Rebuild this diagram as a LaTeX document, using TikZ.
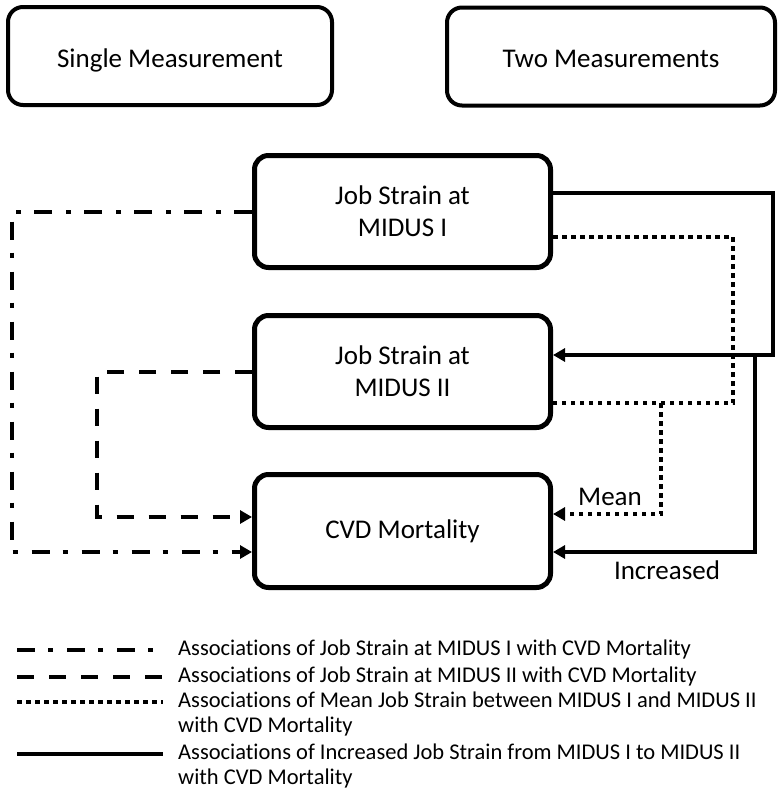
\documentclass[tikz,border=0pt]{standalone}
\usepackage{fontspec}
\setmainfont[Ligatures=NoCommon]{Carlito}
\usetikzlibrary{arrows.meta, positioning}

\begin{document}
\begin{tikzpicture}[x=1pt, y=-1pt,
  topbox/.style={draw, line width=4pt, rounded corners=15pt, minimum width=324pt, minimum height=98pt, text height=22pt, text depth=0pt, font=\fontsize{27}{32}\selectfont},
  midbox/.style={draw, line width=5pt, rounded corners=14pt, minimum width=296pt, minimum height=112pt, align=center, font=\fontsize{27}{32}\selectfont},
  tip/.style={-{Triangle[length=12pt, width=13pt]}},
  ddline/.style={line width=4pt, dash pattern=on 18pt off 13pt on 5pt off 14pt},
  dline/.style={line width=4pt, dash pattern=on 17pt off 15pt},
  dotline/.style={line width=4pt, dash pattern=on 4.5pt off 4.5pt},
  sline/.style={line width=4pt},
  lbl/.style={font=\fontsize{27}{32}\selectfont},
  legtext/.style={anchor=base west, align=left, inner sep=0pt, font=\fontsize{22.5}{25}\selectfont}
]
\useasboundingbox (0,0) rectangle (784,790);

% header boxes
\node[topbox] (single) at (170,56) {Single Measurement};
\node[topbox, minimum width=328pt] (two) at (611,56.5) {Two Measurements};

% job strain and outcome
\node[midbox] (js1) at (402.5,211.5) {Job Strain at\\MIDUS I};
\node[midbox] (js2) at (402.5,371.5) {Job Strain at\\MIDUS II};
\node[midbox, minimum height=113pt] (cvd) at (402.5,531) {CVD Mortality};

% single measurement paths
\draw[ddline, tip] (js1.west) -- ++(-240,0) |- ([yshift=-21pt]cvd.west);
\draw[dline, tip] (js2.west) -- ++(-155,0) |- ([yshift=14pt]cvd.west);

% two measurement paths
\coordinate (solidturn) at (773,355);
\coordinate (solidsplit) at (755,355);
\coordinate (dotturn) at (733,403);
\coordinate (dotsplit) at (661,403);
\draw[sline, tip] ([yshift=18.5pt]js1.east) -| (solidturn) -- ([yshift=16.5pt]js2.east);
\draw[sline, tip] (solidsplit) |- ([yshift=-21pt]cvd.east);
\draw[dotline] ([yshift=-25.5pt]js1.east) -| (dotturn) -- ([yshift=-31.5pt]js2.east);
\draw[dotline, tip] (dotsplit) |- ([yshift=17pt]cvd.east);
\node[lbl] (mean) at (610,497) {Mean};
\node[lbl] (incr) at (667,570) {Increased};

% legend
\draw[ddline] (17,650) -- (163,650);
\draw[dline] (17,677) -- (163,677);
\draw[dotline] (17,702) -- (163,702);
\draw[sline] (17,754) -- (163,754);
\node[legtext] (leg1) at (178,655) {Associations of Job Strain at MIDUS I with CVD Mortality};
\node[legtext] (leg2) at (178,682) {Associations of Job Strain at MIDUS II with CVD Mortality};
\node[legtext] (leg3) at (178,732) {Associations of Mean Job Strain between MIDUS I and MIDUS II\\with CVD Mortality};
\node[legtext] (leg4) at (178,784) {Associations of Increased Job Strain from MIDUS I to MIDUS II\\with CVD Mortality};
\end{tikzpicture}
\end{document}
